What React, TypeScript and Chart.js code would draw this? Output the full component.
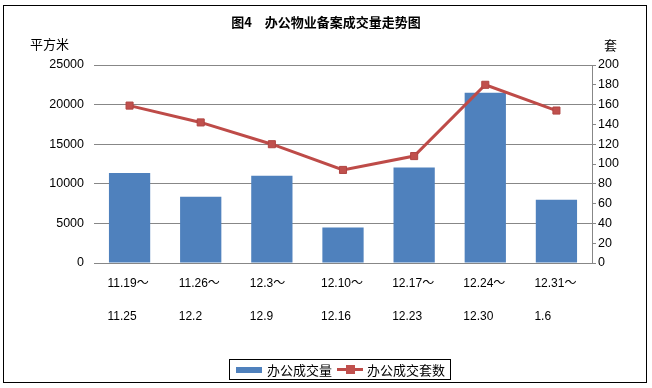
import React, { useEffect, useRef } from "react";
import { Chart, registerables } from "chart.js";

Chart.register(...registerables);

const titleText = "图4　办公物业备案成交量走势图";
const leftUnit = "平方米";
const rightUnit = "套";
const categories = [
  ["11.19～", "", "11.25"],
  ["11.26～", "", "12.2"],
  ["12.3～", "", "12.9"],
  ["12.10～", "", "12.16"],
  ["12.17～", "", "12.23"],
  ["12.24～", "", "12.30"],
  ["12.31～", "", "1.6"],
];
const areaName = "办公成交量";
const countName = "办公成交套数";
const areaValues = [11350, 8360, 11010, 4490, 12050, 21510, 7980];
const countValues = [159, 142, 120, 94, 108, 180, 154];

const FONT = '"Liberation Sans", "Noto Sans CJK SC", Arial, sans-serif';
const CJK = '"Noto Sans CJK SC", sans-serif';
const GRID = "#878787";
const BLUE = "#4F81BD";
const RED = "#C0504D";

const textPlugin = {
  id: "textPlugin",
  afterDraw(chart: any) {
    const { ctx, chartArea } = chart;
    ctx.save();
    ctx.fillStyle = "#000";
    ctx.textBaseline = "middle";
    ctx.font = `bold 13px ${CJK}`;
    ctx.textAlign = "center";
    ctx.fillText(titleText, chart.width / 2, 22);
    ctx.font = `13px ${CJK}`;
    ctx.textAlign = "left";
    ctx.fillText(leftUnit, chartArea.left - 64, chartArea.top - 21);
    ctx.fillText(rightUnit, chartArea.right + 12, chartArea.top - 20);
    ctx.restore();
  },
};

export default function App() {
  const ref = useRef<HTMLCanvasElement | null>(null);
  useEffect(() => {
    document.body.style.margin = "0";
    const chart = new Chart(ref.current as HTMLCanvasElement, {
      type: "bar",
      data: {
        labels: categories,
        datasets: [
          {
            type: "line",
            label: countName,
            data: countValues,
            yAxisID: "y1",
            borderColor: "#BE4B48",
            backgroundColor: RED,
            borderWidth: 3,
            pointStyle: "rect",
            pointRadius: 5,
            pointBorderColor: "#B04542",
            pointBorderWidth: 1,
            pointBackgroundColor: RED,
            order: 0,
          } as any,
          {
            type: "bar",
            label: areaName,
            data: areaValues,
            yAxisID: "y",
            backgroundColor: BLUE,
            categoryPercentage: 1,
            barPercentage: 0.58,
            order: 1,
          },
        ],
      },
      options: {
        animation: false,
        responsive: true,
        maintainAspectRatio: false,
        layout: { padding: { top: 65, left: 0, right: 0, bottom: 0 } },
        plugins: {
          legend: { display: false },
          title: { display: false },
          tooltip: { enabled: false },
        },
        scales: {
          x: {
            grid: { display: false, drawTicks: false },
            border: { display: true, color: GRID, width: 1 },
            ticks: {
              color: "#000",
              font: { family: FONT, size: 12, lineHeight: 1.34 },
              align: "start",
              labelOffset: -22,
              padding: 13,
              maxRotation: 0,
              autoSkip: false,
            },
            afterFit(scale: any) {
              scale.height = 125;
            },
          },
          y: {
            position: "left",
            min: 0,
            max: 25000,
            grid: { color: GRID, drawTicks: false },
            border: { display: false },
            ticks: {
              stepSize: 5000,
              color: "#000",
              padding: 10,
              font: { family: FONT, size: 12.5 },
              callback: (v: any) => String(v),
            },
            afterFit(scale: any) {
              scale.width = 94;
            },
          },
          y1: {
            position: "right",
            min: 0,
            max: 200,
            grid: { drawOnChartArea: false, drawTicks: true, tickLength: 4, color: GRID },
            border: { display: true, color: GRID },
            ticks: {
              stepSize: 20,
              color: "#000",
              padding: 2,
              font: { family: FONT, size: 12.5 },
              callback: (v: any) => String(v),
            },
            afterFit(scale: any) {
              scale.width = 60;
            },
          },
        },
      },
      plugins: [textPlugin],
    });
    return () => chart.destroy();
  }, []);

  return (
    <div style={{ position: "relative", width: 652, height: 388, background: "#fff" }}>
      <canvas ref={ref} />
      <div
        style={{
          position: "absolute",
          left: 3,
          top: 5,
          width: 642,
          height: 376,
          border: "1.5px solid #000",
          pointerEvents: "none",
        }}
      />
      <div
        style={{
          position: "absolute",
          left: 229,
          top: 359,
          width: 220,
          height: 19,
          border: "1px solid #000",
          display: "flex",
          alignItems: "center",
          fontFamily: CJK,
          fontSize: 13,
          color: "#000",
          whiteSpace: "nowrap",
        }}
      >
        <span style={{ display: "inline-block", width: 26, height: 6, background: BLUE, marginLeft: 6, marginRight: 5 }} />
        <span>{areaName}</span>
        <span style={{ position: "relative", display: "inline-block", width: 26, height: 10, marginLeft: 5, marginRight: 4 }}>
          <span style={{ position: "absolute", left: 0, top: 3.5, width: 26, height: 3, background: "#BE4B48" }} />
          <span style={{ position: "absolute", left: 8.5, top: 0.5, width: 9, height: 9, background: RED }} />
        </span>
        <span>{countName}</span>
      </div>
    </div>
  );
}
